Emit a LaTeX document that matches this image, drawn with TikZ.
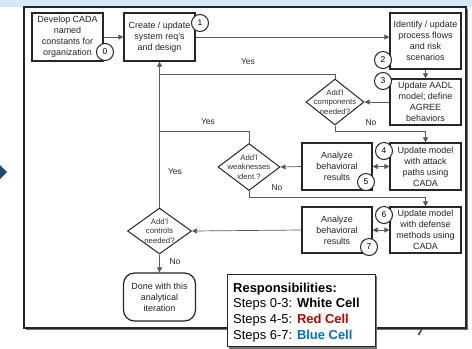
\documentclass[tikz,border=0pt]{standalone}
\usepackage{fontspec}
\setmainfont{Liberation Sans}
\usetikzlibrary{shapes.geometric,arrows.meta}
\definecolor{band}{RGB}{214,231,247}
\definecolor{navy}{RGB}{27,74,110}
\definecolor{redcell}{RGB}{192,0,0}
\definecolor{bluecell}{RGB}{0,112,192}
\tikzset{
 box/.style={draw=black!85, line width=1.2bp, fill=white, inner sep=0, align=center, font=\fontsize{9}{11}\selectfont, text=black!85},
 num/.style={circle, draw=black!85, line width=1bp, fill=white, minimum size=17bp, inner sep=0, font=\fontsize{8.5}{10}\selectfont},
 dia/.style={diamond, draw=black!85, line width=1bp, fill=white, inner sep=0},
 dtext/.style={align=center, font=\fontsize{7.8}{9.3}\selectfont, text=black!80, inner sep=0},
 conn/.style={draw=black!65, line width=0.7bp},
 arr/.style={conn, -{Triangle[length=5bp,width=5bp]}},
 darr/.style={conn, {Triangle[length=5bp,width=5bp]}-{Triangle[length=5bp,width=5bp]}},
 lab/.style={font=\fontsize{8.5}{10}\selectfont, text=black!85, inner sep=0},
 resp/.style={anchor=base west, inner sep=0, font=\fontsize{13}{15}\selectfont},
}
\begin{document}
\begin{tikzpicture}[x=1bp,y=-1bp]
\useasboundingbox (0,0) rectangle (472,348);
% background decorations
\fill[band] (0,0) rectangle (472,6.5);
\fill[navy] (-7,172) -- (0,165) -- (7,172) -- (0,179) -- cycle;
% frame
\fill[black!55] (26,9) rectangle (468,330);
\draw[black!85, line width=1.3bp, fill=white] (24,7) rectangle (466,328);
\draw[navy, line width=1.5bp] (421.5,329.5) -- (418.5,335);

% boxes
\node[box, minimum width=71bp, minimum height=48bp] (b0) at (67.5,37) {Develop CADA\\named\\constants for\\organization};
\node[box, minimum width=71bp, minimum height=48bp] (b1) at (159.5,37) {Create / update\\system req's\\and design};
\node[box, minimum width=71bp, minimum height=56bp] (b2) at (425.5,41) {Identify / update\\process flows\\and risk\\scenarios};
\node[box, minimum width=71bp, minimum height=46bp] (b3) at (425.5,102) {Update AADL\\model; define\\AGREE\\behaviors};
\node[box, minimum width=71bp, minimum height=47bp] (b4) at (425.5,166.5) {Update model\\with attack\\paths using\\CADA};
\node[box, minimum width=70bp, minimum height=47bp] (b5) at (337,166.5) {Analyze\\behavioral\\results};
\node[box, minimum width=71bp, minimum height=46bp] (b6) at (425.5,230) {Update model\\with defense\\methods using\\CADA};
\node[box, minimum width=70bp, minimum height=46bp] (b7) at (337,230) {Analyze\\behavioral\\results};
\node[box, rounded corners=11bp, minimum width=72bp, minimum height=48bp] (done) at (159.5,297) {Done with this\\analytical\\iteration};

% diamonds
\node[dia, minimum width=58bp, minimum height=46bp] (comp) at (335,102) {};
\node[dtext] (compt) at (comp.center) {Add'l\\components\\needed?};
\node[dia, minimum width=62bp, minimum height=47bp] (weak) at (249,167) {};
\node[dtext] (weakt) at (weak.center) {Add'l\\weaknesses\\ident.?};
\node[dia, minimum width=64bp, minimum height=46bp] (ctrl) at (159.5,231) {};
\node[dtext] (ctrlt) at (ctrl.center) {Add'l\\controls\\needed?};

% junctions
\coordinate (j1) at (159.5,74);
\coordinate (j2) at (159.5,131);

% connectors
\draw[arr] (b0.east) -- (b1.west);
\draw[arr] (b1.east) -- (b1.east -| b2.west);
\draw[arr] (b2.south) -- (b3.north);
\draw[arr] (b3.west) -- (comp.east);
\draw[conn] (comp.north) |- (j1);
\draw[arr] (ctrl.north) -- (b1.south);
\draw[arr] (comp.south) -- ++(0,6) -| (b4.north);
\draw[darr] (b5.east) -- (b4.west);
\draw[arr] (b5.west) -- (weak.east);
\draw[conn] (weak.north) |- (j2);
\draw[arr] (weak.south) -- ++(0,6) -| (b6.north);
\draw[darr] (b7.east) -- (b6.west);
\draw[arr] (b7.west) -- (ctrl.east);
\draw[arr] (ctrl.south) -- (done.north);

% labels
\node[lab] (y1) at (248,62) {Yes};
\node[lab] (y2) at (208,122) {Yes};
\node[lab] (y3) at (175,172) {Yes};
\node[lab] (n1) at (371,123) {No};
\node[lab] (n2) at (277,188) {No};
\node[lab] (n3) at (175,262) {No};

% step numbers
\node[num] (c0) at (105,52) {0};
\node[num] (c1) at (200,23) {1};
\node[num] (c2) at (383,60) {2};
\node[num] (c3) at (383,81) {3};
\node[num] (c4) at (384,151) {4};
\node[num] (c5) at (366,182) {5};
\node[num] (c6) at (384,215) {6};
\node[num] (c7) at (369,247) {7};

% responsibilities
\fill[black!55] (229,276) rectangle (377,349);
\node[draw=black!85, line width=1.2bp, fill=white, anchor=north west, minimum width=148bp, minimum height=72bp, inner sep=0] (rbox) at (227,274) {};
\node[resp] (r0) at (233,292) {\textbf{Responsibilities:}};
\node[resp] (r1) at (233,307.5) {Steps 0-3: \textbf{White Cell}};
\node[resp] (r2) at (233,323) {Steps 4-5: \textbf{\color{redcell}Red Cell}};
\node[resp] (r3) at (233,339) {Steps 6-7: \textbf{\color{bluecell}Blue Cell}};
\end{tikzpicture}
\end{document}
